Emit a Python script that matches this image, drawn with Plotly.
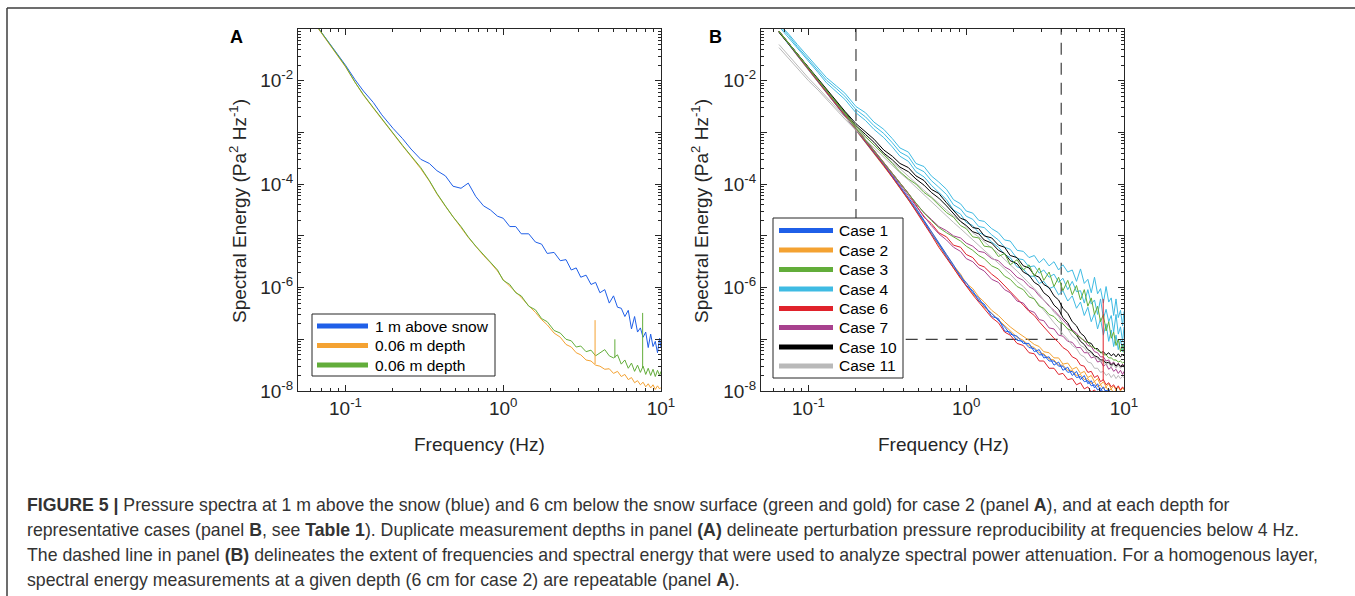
import numpy as np
import plotly.graph_objects as go

# frequency grid (Hz) shared by every spectrum
freq = [0.065, 0.075, 0.085, 0.1, 0.115, 0.13, 0.15, 0.17, 0.2, 0.23,
        0.26, 0.3, 0.34, 0.38, 0.43, 0.48, 0.54, 0.6, 0.67, 0.75,
        0.83, 0.92, 1.0, 1.1, 1.2, 1.3, 1.45, 1.6, 1.75, 1.9,
        2.1, 2.3, 2.5, 2.7, 2.9, 3.1, 3.35, 3.6, 3.85, 4.1,
        4.4, 4.7, 5.0, 5.3, 5.6, 5.9, 6.2, 6.5, 6.8, 7.1,
        7.4, 7.7, 8.0, 8.3, 8.6, 8.9, 9.2, 9.5, 9.8, 10.0]

# ---- panel A, case 2 (values are log10 of Pa^2/Hz) ----
a_above = [-0.92, -1.18, -1.42, -1.70, -1.98, -2.20, -2.42, -2.66, -2.92, -3.12,
           -3.32, -3.52, -3.60, -3.74, -3.84, -4.04, -4.08, -3.98, -4.24, -4.42,
           -4.50, -4.62, -4.66, -4.82, -4.82, -4.96, -4.96, -5.12, -5.16, -5.34,
           -5.32, -5.48, -5.46, -5.66, -5.62, -5.80, -5.76, -5.94, -5.90, -6.10,
           -6.04, -6.30, -6.16, -6.38, -6.40, -6.56, -6.44, -6.80, -6.56, -6.86,
           -6.78, -6.96, -6.86, -7.16, -6.90, -7.14, -7.04, -7.26, -6.98, -7.16]
a_depth_1 = [-0.93, -1.19, -1.43, -1.73, -2.03, -2.28, -2.53, -2.75, -3.03, -3.26,
             -3.46, -3.70, -3.94, -4.19, -4.43, -4.64, -4.84, -5.03, -5.21, -5.38,
             -5.52, -5.68, -5.85, -5.97, -6.09, -6.19, -6.35, -6.48, -6.62, -6.72,
             -6.88, -6.96, -7.10, -7.15, -7.26, -7.30, -7.40, -7.42, -7.50, -7.52,
             -7.58, -7.57, -7.66, -7.62, -7.72, -7.68, -7.78, -7.74, -7.84, -7.80,
             -7.88, -7.83, -7.92, -7.86, -7.94, -7.88, -7.97, -7.90, -7.96, -7.93]
a_depth_2 = [-0.92, -1.18, -1.42, -1.72, -2.03, -2.27, -2.52, -2.74, -3.02, -3.25,
             -3.45, -3.68, -3.93, -4.18, -4.42, -4.63, -4.82, -5.02, -5.20, -5.36,
             -5.50, -5.66, -5.86, -5.94, -6.10, -6.16, -6.36, -6.43, -6.60, -6.66,
             -6.83, -6.88, -7.00, -7.03, -7.15, -7.13, -7.24, -7.21, -7.32, -7.26,
             -7.20, -7.32, -7.36, -7.30, -7.48, -7.40, -7.56, -7.46, -7.62, -7.50,
             -7.64, -7.52, -7.68, -7.56, -7.70, -7.58, -7.72, -7.60, -7.70, -7.62]
a_labels = ["1 m above snow", "0.06 m depth", "0.06 m depth"]
# narrow spikes: frequency, base, peak (log10)
a_spike_f = [3.82, 5.1, 7.65]
a_spike_lo = [-7.48, -7.36, -7.55]
a_spike_hi = [-6.63, -7.0, -6.49]
a_spike_series = [1, 2, 2]

# ---- panel B, representative cases ----
case_1 = [
    [-1.04, -1.27, -1.49, -1.77, -2.00, -2.20, -2.44, -2.66, -2.94, -3.17,
     -3.38, -3.62, -3.84, -4.04, -4.26, -4.46, -4.70, -4.92, -5.14, -5.36,
     -5.56, -5.80, -5.90, -6.10, -6.20, -6.36, -6.50, -6.64, -6.76, -6.90,
     -6.94, -7.08, -7.08, -7.24, -7.20, -7.36, -7.34, -7.50, -7.44, -7.60,
     -7.54, -7.70, -7.62, -7.78, -7.70, -7.86, -7.80, -7.94, -7.86, -8.00,
     -7.92, -8.04, -7.96, -8.08, -8.00, -8.10, -8.02, -8.12, -8.04, -8.08],
    [-1.06, -1.30, -1.51, -1.78, -2.02, -2.23, -2.46, -2.68, -2.95, -3.19,
     -3.40, -3.64, -3.86, -4.07, -4.28, -4.50, -4.72, -4.96, -5.16, -5.40,
     -5.60, -5.76, -5.96, -6.06, -6.26, -6.32, -6.56, -6.60, -6.84, -6.86,
     -7.02, -7.04, -7.16, -7.18, -7.30, -7.30, -7.42, -7.42, -7.52, -7.52,
     -7.64, -7.62, -7.74, -7.72, -7.82, -7.80, -7.90, -7.88, -7.98, -7.94,
     -8.04, -7.98, -8.06, -8.02, -8.10, -8.04, -8.12, -8.06, -8.10, -8.08]]
case_2 = [
    [-1.05, -1.28, -1.50, -1.77, -2.01, -2.22, -2.45, -2.67, -2.94, -3.18,
     -3.39, -3.63, -3.85, -4.05, -4.27, -4.48, -4.71, -4.93, -5.15, -5.37,
     -5.57, -5.74, -5.92, -6.02, -6.18, -6.28, -6.44, -6.54, -6.66, -6.76,
     -6.86, -6.94, -7.02, -7.10, -7.14, -7.24, -7.26, -7.36, -7.36, -7.48,
     -7.46, -7.58, -7.54, -7.66, -7.62, -7.74, -7.70, -7.82, -7.76, -7.88,
     -7.82, -7.92, -7.86, -7.96, -7.90, -7.98, -7.92, -8.00, -7.94, -7.98],
    [-1.07, -1.29, -1.52, -1.79, -2.02, -2.24, -2.47, -2.69, -2.96, -3.20,
     -3.41, -3.65, -3.87, -4.08, -4.30, -4.51, -4.74, -4.96, -5.18, -5.40,
     -5.62, -5.82, -5.96, -6.12, -6.24, -6.38, -6.50, -6.62, -6.74, -6.84,
     -6.96, -7.02, -7.12, -7.16, -7.26, -7.28, -7.38, -7.40, -7.50, -7.50,
     -7.60, -7.60, -7.70, -7.68, -7.78, -7.76, -7.86, -7.82, -7.92, -7.88,
     -7.96, -7.92, -8.00, -7.96, -8.04, -7.98, -8.04, -8.00, -8.06, -8.02]]
case_3 = [
    [-1.04, -1.27, -1.48, -1.75, -1.98, -2.18, -2.42, -2.63, -2.88, -3.08,
     -3.24, -3.43, -3.60, -3.76, -3.90, -4.00, -4.16, -4.26, -4.40, -4.55,
     -4.64, -4.80, -4.86, -5.02, -5.04, -5.20, -5.22, -5.40, -5.34, -5.56,
     -5.46, -5.66, -5.56, -5.78, -5.62, -5.86, -5.70, -5.98, -5.80, -6.06,
     -5.86, -6.14, -5.96, -6.24, -6.04, -6.36, -6.20, -6.52, -6.36, -6.66,
     -6.52, -6.84, -6.66, -6.98, -6.86, -7.12, -7.00, -7.24, -7.10, -7.26],
    [-1.05, -1.28, -1.49, -1.76, -1.99, -2.19, -2.43, -2.64, -2.92, -3.15,
     -3.35, -3.59, -3.80, -3.99, -4.19, -4.38, -4.56, -4.70, -4.84, -4.94,
     -5.02, -5.10, -5.20, -5.28, -5.38, -5.44, -5.58, -5.64, -5.78, -5.84,
     -5.98, -6.04, -6.18, -6.22, -6.36, -6.40, -6.52, -6.56, -6.66, -6.70,
     -6.80, -6.84, -6.92, -6.96, -7.04, -7.06, -7.14, -7.16, -7.22, -7.24,
     -7.30, -7.30, -7.36, -7.36, -7.40, -7.40, -7.44, -7.42, -7.46, -7.44]]
case_4 = [
    [-0.90, -1.10, -1.30, -1.55, -1.75, -1.94, -2.10, -2.24, -2.50, -2.62,
     -2.80, -2.94, -3.12, -3.30, -3.38, -3.60, -3.66, -3.84, -3.96, -4.10,
     -4.30, -4.38, -4.52, -4.56, -4.70, -4.72, -4.86, -4.94, -5.08, -5.10,
     -5.28, -5.30, -5.42, -5.38, -5.52, -5.44, -5.58, -5.50, -5.66, -5.56,
     -5.70, -5.66, -5.88, -5.64, -5.92, -5.84, -6.10, -5.80, -6.12, -6.02,
     -6.30, -5.98, -6.28, -6.20, -6.54, -6.22, -6.58, -6.44, -6.74, -6.46],
    [-0.92, -1.13, -1.34, -1.59, -1.79, -1.99, -2.15, -2.30, -2.56, -2.70,
     -2.87, -3.02, -3.20, -3.38, -3.47, -3.68, -3.76, -3.93, -4.06, -4.20,
     -4.40, -4.48, -4.62, -4.68, -4.82, -4.84, -4.98, -5.08, -5.22, -5.26,
     -5.44, -5.46, -5.60, -5.58, -5.72, -5.66, -5.80, -5.74, -5.90, -5.82,
     -6.04, -5.88, -6.08, -6.06, -6.30, -6.04, -6.32, -6.24, -6.52, -6.22,
     -6.60, -6.42, -6.66, -6.54, -6.86, -6.52, -6.90, -6.76, -7.04, -6.76],
    [-0.95, -1.17, -1.38, -1.63, -1.84, -2.04, -2.21, -2.36, -2.62, -2.77,
     -2.94, -3.10, -3.28, -3.46, -3.56, -3.76, -3.86, -4.02, -4.16, -4.30,
     -4.50, -4.58, -4.74, -4.80, -4.94, -4.98, -5.12, -5.22, -5.36, -5.42,
     -5.60, -5.64, -5.78, -5.78, -5.92, -5.88, -6.02, -5.98, -6.14, -6.06,
     -6.26, -6.16, -6.40, -6.28, -6.54, -6.38, -6.66, -6.50, -6.80, -6.60,
     -6.92, -6.70, -7.04, -6.82, -7.14, -6.92, -7.20, -7.00, -7.24, -7.06]]
case_6 = [
    [-1.05, -1.29, -1.50, -1.78, -2.01, -2.22, -2.45, -2.67, -2.95, -3.18,
     -3.39, -3.64, -3.86, -4.07, -4.30, -4.52, -4.78, -4.98, -5.22, -5.42,
     -5.62, -5.82, -5.98, -6.14, -6.28, -6.40, -6.58, -6.68, -6.86, -6.92,
     -7.08, -7.12, -7.26, -7.28, -7.42, -7.42, -7.56, -7.56, -7.68, -7.66,
     -7.78, -7.76, -7.88, -7.84, -7.96, -7.92, -8.02, -7.98, -8.06, -8.02,
     -8.10, -8.04, -8.12, -8.06, -8.14, -8.08, -8.14, -8.10, -8.16, -8.10],
    [-1.04, -1.27, -1.48, -1.75, -1.98, -2.18, -2.42, -2.63, -2.91, -3.14,
     -3.34, -3.58, -3.79, -3.98, -4.18, -4.40, -4.64, -4.76, -4.94, -5.02,
     -5.18, -5.22, -5.36, -5.42, -5.56, -5.60, -5.74, -5.84, -5.96, -6.08,
     -6.22, -6.34, -6.46, -6.54, -6.66, -6.76, -6.88, -6.98, -7.06, -7.16,
     -7.22, -7.34, -7.38, -7.50, -7.52, -7.64, -7.62, -7.74, -7.70, -7.82,
     -7.78, -7.88, -7.84, -7.92, -7.88, -7.96, -7.90, -7.98, -7.92, -7.96]]
case_7 = [
    [-1.05, -1.28, -1.49, -1.76, -1.99, -2.20, -2.43, -2.65, -2.93, -3.16,
     -3.36, -3.60, -3.81, -4.01, -4.22, -4.42, -4.62, -4.80, -4.96, -5.08,
     -5.22, -5.30, -5.44, -5.50, -5.62, -5.68, -5.84, -5.90, -6.04, -6.10,
     -6.26, -6.30, -6.44, -6.48, -6.62, -6.64, -6.78, -6.80, -6.92, -6.94,
     -7.04, -7.06, -7.16, -7.16, -7.26, -7.26, -7.36, -7.34, -7.44, -7.42,
     -7.52, -7.48, -7.58, -7.54, -7.62, -7.58, -7.66, -7.60, -7.68, -7.62],
    [-1.04, -1.27, -1.48, -1.75, -1.98, -2.19, -2.42, -2.63, -2.91, -3.14,
     -3.34, -3.58, -3.79, -3.98, -4.18, -4.37, -4.55, -4.68, -4.82, -4.90,
     -5.00, -5.04, -5.14, -5.20, -5.30, -5.32, -5.44, -5.48, -5.60, -5.66,
     -5.80, -5.86, -5.98, -6.04, -6.16, -6.24, -6.36, -6.44, -6.54, -6.62,
     -6.72, -6.82, -6.88, -6.98, -7.02, -7.12, -7.14, -7.24, -7.26, -7.34,
     -7.34, -7.42, -7.40, -7.48, -7.44, -7.52, -7.46, -7.54, -7.48, -7.52]]
case_10 = [
    [-1.05, -1.28, -1.49, -1.76, -1.98, -2.18, -2.40, -2.59, -2.83, -2.99,
     -3.13, -3.34, -3.46, -3.60, -3.68, -3.84, -3.93, -4.10, -4.18, -4.36,
     -4.50, -4.66, -4.70, -4.84, -4.86, -5.00, -5.04, -5.18, -5.22, -5.38,
     -5.42, -5.58, -5.62, -5.76, -5.80, -5.94, -6.00, -6.16, -6.24, -6.40,
     -6.50, -6.66, -6.74, -6.88, -6.94, -7.06, -7.08, -7.18, -7.18, -7.26,
     -7.24, -7.30, -7.26, -7.32, -7.28, -7.34, -7.28, -7.34, -7.30, -7.32],
    [-1.06, -1.29, -1.50, -1.77, -1.99, -2.19, -2.42, -2.62, -2.87, -3.04,
     -3.19, -3.40, -3.53, -3.67, -3.76, -3.90, -4.02, -4.16, -4.27, -4.42,
     -4.58, -4.72, -4.80, -4.92, -4.96, -5.08, -5.14, -5.28, -5.34, -5.48,
     -5.54, -5.70, -5.76, -5.90, -5.96, -6.10, -6.18, -6.34, -6.42, -6.58,
     -6.68, -6.84, -6.92, -7.04, -7.10, -7.20, -7.24, -7.32, -7.34, -7.40,
     -7.40, -7.46, -7.44, -7.50, -7.46, -7.52, -7.48, -7.52, -7.50, -7.52]]
case_11 = [
    [-1.30, -1.52, -1.70, -1.95, -2.14, -2.32, -2.52, -2.70, -2.92, -3.10,
     -3.24, -3.42, -3.58, -3.70, -3.84, -3.98, -4.12, -4.24, -4.38, -4.50,
     -4.62, -4.72, -4.82, -4.94, -5.02, -5.12, -5.24, -5.34, -5.46, -5.56,
     -5.68, -5.80, -5.90, -6.02, -6.12, -6.24, -6.34, -6.48, -6.56, -6.70,
     -6.80, -6.94, -7.00, -7.12, -7.16, -7.26, -7.26, -7.36, -7.36, -7.44,
     -7.42, -7.50, -7.46, -7.54, -7.48, -7.56, -7.50, -7.56, -7.52, -7.54],
    [-1.36, -1.58, -1.76, -2.00, -2.18, -2.36, -2.56, -2.74, -2.96, -3.14,
     -3.30, -3.48, -3.64, -3.78, -3.92, -4.06, -4.20, -4.34, -4.48, -4.62,
     -4.74, -4.86, -4.96, -5.08, -5.18, -5.28, -5.40, -5.52, -5.64, -5.74,
     -5.88, -5.98, -6.10, -6.22, -6.32, -6.44, -6.56, -6.68, -6.78, -6.90,
     -7.00, -7.12, -7.18, -7.30, -7.34, -7.44, -7.46, -7.56, -7.56, -7.64,
     -7.62, -7.70, -7.66, -7.74, -7.68, -7.76, -7.70, -7.76, -7.72, -7.74]]
b_labels = ["Case 1", "Case 2", "Case 3", "Case 4", "Case 6", "Case 7", "Case 10", "Case 11"]
b_spike_f = [7.38]
b_spike_lo = [-7.80]
b_spike_hi = [-6.22]
# analysis window (dashed box)
window_f = [0.2, 4.0]
window_e = [1e-7, 1e-1]

colors_a = ["#1f5fe8", "#f4a232", "#62ad3a"]
colors_b = {"Case 1": "#1f5fe8", "Case 2": "#f4a232", "Case 3": "#62ad3a", "Case 4": "#3fbbe3",
            "Case 6": "#e0222b", "Case 7": "#a8418e", "Case 10": "#000000", "Case 11": "#b9b9b9"}
series_b = {"Case 1": case_1, "Case 2": case_2, "Case 3": case_3, "Case 4": case_4,
            "Case 6": case_6, "Case 7": case_7, "Case 10": case_10, "Case 11": case_11}

W, H = 1355, 596
FONT = "Liberation Sans, Arial, sans-serif"


def px(x):
    return x / W


def py(y):
    return 1 - y / H


def lin(v):
    return [10 ** e for e in v]


fig = go.Figure()

# panel A spectra
for vals, col in zip([a_above, a_depth_1, a_depth_2], colors_a):
    fig.add_trace(go.Scatter(x=freq, y=lin(vals), mode="lines", line=dict(color=col, width=1),
                             showlegend=False, xaxis="x", yaxis="y"))
for f, lo, hi, s in zip(a_spike_f, a_spike_lo, a_spike_hi, a_spike_series):
    fig.add_trace(go.Scatter(x=[f, f], y=lin([lo, hi]), mode="lines",
                             line=dict(color=colors_a[s], width=1), showlegend=False))

# panel B dashed window
fig.add_trace(go.Scatter(x=[window_f[0], window_f[0], window_f[1], window_f[1]],
                         y=[window_e[1], window_e[0], window_e[0], window_e[1]],
                         mode="lines", line=dict(color="#404040", width=1.2, dash="12px,8px"),
                         showlegend=False, xaxis="x2", yaxis="y2"))
draw_order = ["Case 4", "Case 2", "Case 1", "Case 6", "Case 7", "Case 11", "Case 10", "Case 3"]
for name in draw_order:
    for vals in series_b[name]:
        fig.add_trace(go.Scatter(x=freq, y=lin(vals), mode="lines",
                                 line=dict(color=colors_b[name], width=1),
                                 showlegend=False, xaxis="x2", yaxis="y2"))
for f, lo, hi in zip(b_spike_f, b_spike_lo, b_spike_hi):
    fig.add_trace(go.Scatter(x=[f, f], y=lin([lo, hi]), mode="lines",
                             line=dict(color=colors_b["Case 6"], width=1),
                             showlegend=False, xaxis="x2", yaxis="y2"))

minor_x = [k * 10.0 ** d for d in (-2, -1, 0) for k in range(2, 10)]
minor_y = [k * 10.0 ** d for d in range(-8, -1) for k in range(2, 10)]
ytv = [10.0 ** d for d in range(-8, 0)]
ytt = ["10<sup>%d</sup>" % d if d % 2 == 0 else "" for d in range(-8, 0)]

axis_common = dict(type="log", showgrid=False, zeroline=False, showline=True, automargin=False,
                   linecolor="#262626", linewidth=1, mirror="allticks",
                   ticks="inside", ticklen=6, tickcolor="#262626",
                   tickfont=dict(family=FONT, size=19, color="#262626"))
xaxis_common = dict(axis_common, range=[np.log10(0.05), 1], tickmode="array",
                    tickvals=[0.1, 1, 10], ticktext=["10<sup>-1</sup>", "10<sup>0</sup>", "10<sup>1</sup>"],
                    minor=dict(tickmode="array", tickvals=minor_x, ticks="inside", ticklen=3,
                               tickcolor="#262626", showgrid=False))
yaxis_common = dict(axis_common, range=[-8, -1], tickmode="array", tickvals=ytv, ticktext=ytt,
                    minor=dict(tickmode="array", tickvals=minor_y, ticks="inside", ticklen=3,
                               tickcolor="#262626", showgrid=False))

ydom = [py(391), py(29)]
fig.update_layout(
    width=W, height=H, margin=dict(l=0, r=0, t=0, b=0, pad=0, autoexpand=False),
    paper_bgcolor="white", plot_bgcolor="white", showlegend=False,
    font=dict(family=FONT, color="#262626"),
    xaxis=dict(xaxis_common, domain=[px(298), px(661)], anchor="y"),
    yaxis=dict(yaxis_common, domain=ydom, anchor="x"),
    xaxis2=dict(xaxis_common, domain=[px(761), px(1124)], anchor="y2"),
    yaxis2=dict(yaxis_common, domain=ydom, anchor="x2"),
)

ann = []
shapes = []


def label(x, y, text, size, color="#262626", angle=0, anchor="center"):
    ann.append(dict(x=px(x), y=py(y), xref="paper", yref="paper", text=text, textangle=angle,
                    xanchor=anchor, yanchor="middle", showarrow=False, align="left",
                    font=dict(family=FONT, size=size, color=color)))


ytitle = "Spectral Energy (Pa<sup>2</sup> Hz<sup>-1</sup>)"
for xc in (238, 700):
    label(xc, 211, ytitle, 19, angle=-90)
for xc in (480, 943):
    label(xc, 444, "Frequency (Hz)", 19)
label(236, 37, "<b>A</b>", 18, "#000")
label(715, 37, "<b>B</b>", 18, "#000")


# boxed legends drawn in figure pixels (MATLAB style, thick swatches)
def legend_box(x0, y0, x1, y1, rows, labels, cols, lx0, lx1, tx):
    shapes.append(dict(type="rect", xref="paper", yref="paper", x0=px(x0), x1=px(x1),
                       y0=py(y1), y1=py(y0), fillcolor="white", layer="above",
                       line=dict(color="#262626", width=1)))
    for yr, lab, col in zip(rows, labels, cols):
        shapes.append(dict(type="line", xref="paper", yref="paper", x0=px(lx0), x1=px(lx1),
                           y0=py(yr), y1=py(yr), layer="above", line=dict(color=col, width=5)))
        label(tx, yr, lab, 15.5, "#000", anchor="left")


legend_box(312, 314, 495, 376, [326, 345.5, 365], a_labels, colors_a, 317, 368, 373)
legend_box(773, 218, 903, 378, [230.5, 250, 269.5, 289, 308.5, 327.5, 347, 366],
           b_labels, [colors_b[k] for k in b_labels], 779, 833, 837)

caption = [
    "<b>FIGURE 5 |</b> Pressure spectra at 1 m above the snow (blue) and 6 cm below the snow surface "
    "(green and gold) for case 2 (panel <b>A</b>), and at each depth for",
    "representative cases (panel <b>B</b>, see <b>Table 1</b>). Duplicate measurement depths in panel "
    "<b>(A)</b> delineate perturbation pressure reproducibility at frequencies below 4 Hz.",
    "The dashed line in panel <b>(B)</b> delineates the extent of frequencies and spectral energy that "
    "were used to analyze spectral power attenuation. For a homogenous layer,",
    "spectral energy measurements at a given depth (6 cm for case 2) are repeatable (panel <b>A</b>).",
]
for i, line in enumerate(caption):
    label(25, 505 + 25 * i, line, 17.7, "#333", anchor="left")

# figure frame (top and left rule)
shapes.append(dict(type="line", xref="paper", yref="paper", x0=px(7), x1=1, y0=py(8), y1=py(8),
                   line=dict(color="#3c3c3c", width=1.5)))
shapes.append(dict(type="line", xref="paper", yref="paper", x0=px(7), x1=px(7), y0=py(8), y1=0,
                   line=dict(color="#3c3c3c", width=1.5)))
fig.update_layout(annotations=ann, shapes=shapes)

# drop the default page margin so the figure sits at the window origin
page_js = """
var de = document.documentElement, b = document.body;
de.style.margin = '0'; de.style.padding = '0'; de.style.overflow = 'hidden';
b.style.margin = '0'; b.style.padding = '0'; b.style.overflow = 'hidden';
"""
fig.write_html("out.html", config={"displayModeBar": False}, post_script=page_js)
